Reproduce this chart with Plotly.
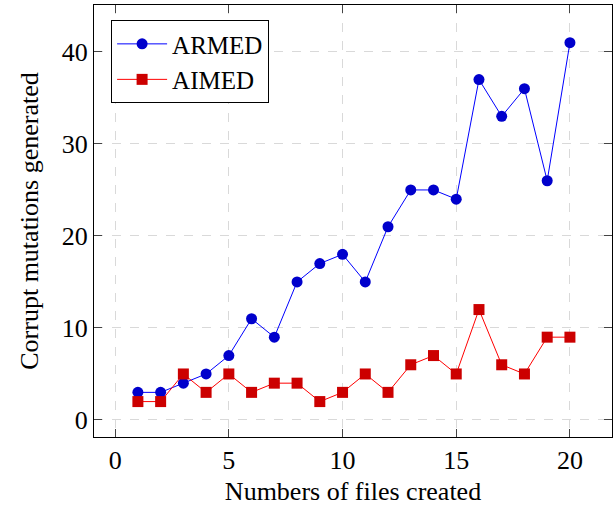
import plotly.graph_objects as go

files = list(range(1, 21))
armed = [3, 3, 4, 5, 7, 11, 9, 15, 17, 18, 15, 21, 25, 25, 24, 37, 33, 36, 26, 41]
aimed = [2, 2, 5, 3, 5, 3, 4, 4, 2, 3, 5, 3, 6, 7, 5, 12, 6, 5, 9, 9]

fig = go.Figure()
fig.add_trace(go.Scatter(x=files, y=armed, name="ARMED", mode="lines+markers",
                         line=dict(color="#0000ff", width=1),
                         marker=dict(symbol="circle", size=11, color="#0000cc")))
fig.add_trace(go.Scatter(x=files, y=aimed, name="AIMED", mode="lines+markers",
                         line=dict(color="#ff0000", width=1),
                         marker=dict(symbol="square", size=11, color="#cc0000")))

font = "Liberation Serif, Times New Roman, serif"
axis_common = dict(showline=True, linecolor="black", linewidth=1, mirror="ticks",
                   ticks="inside", ticklen=8, tickcolor="#444", showgrid=True,
                   gridcolor="#d9d9d9", griddash="dash", gridwidth=1, zeroline=False,
                   automargin=False,
                   tickfont=dict(family=font, size=26, color="black"))
fig.update_layout(
    width=616, height=506,
    margin=dict(l=94, r=4, t=5, b=69),
    plot_bgcolor="white", paper_bgcolor="white",
    font=dict(family=font, size=26, color="black"),
    xaxis=dict(range=[-0.93, 21.85], tickvals=[0, 5, 10, 15, 20],
               title=dict(text="Numbers of files created", font=dict(family=font, size=26)),
               **axis_common),
    yaxis=dict(range=[-1.85, 45.1], tickvals=[0, 10, 20, 30, 40],
               title=dict(text="Corrupt mutations generated", font=dict(family=font, size=26)),
               **axis_common),
    legend=dict(x=0.033, y=0.965, xanchor="left", yanchor="top", bordercolor="black",
                borderwidth=1, bgcolor="white", font=dict(family=font, size=25),
                itemwidth=50, tracegroupgap=0),
    showlegend=True,
)
fig.write_html("out.html", post_script="document.body.style.margin='0';",
               config={"displayModeBar": False})
